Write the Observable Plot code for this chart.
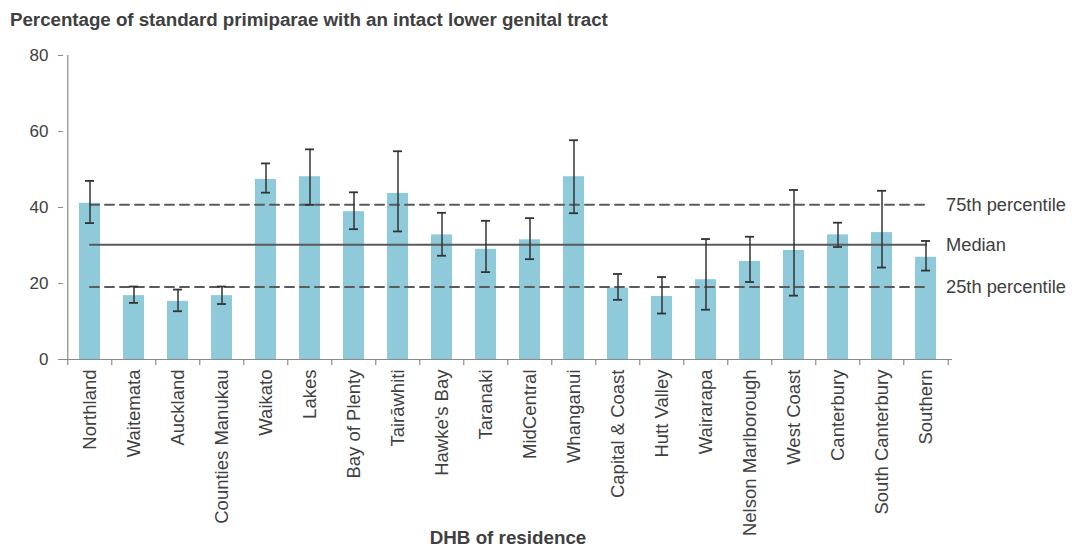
<!DOCTYPE html>
<html>
<head>
<meta charset="utf-8">
<script src="https://cdn.jsdelivr.net/npm/d3@7"></script>
<script src="https://cdn.jsdelivr.net/npm/@observablehq/plot@0.6"></script>
<style>
  html, body { margin: 0; padding: 0; background: #fff; }
  body { width: 1072px; height: 546px; overflow: hidden; font-family: "Liberation Sans", Arial, sans-serif; }
  #title { height: 38px; box-sizing: border-box; padding: 9px 0 0 10px; font-size: 18.8px; font-weight: bold; color: #404040; letter-spacing: -0.05px; white-space: nowrap; }
  #chart svg { display: block; }
</style>
</head>
<body>
<div id="title">Percentage of standard primiparae with an intact lower genital tract</div>
<div id="chart"></div>
<script>
const categories = ["Northland","Waitemata","Auckland","Counties Manukau","Waikato","Lakes","Bay of Plenty","Tairāwhiti","Hawke's Bay","Taranaki","MidCentral","Whanganui","Capital & Coast","Hutt Valley","Wairarapa","Nelson Marlborough","West Coast","Canterbury","South Canterbury","Southern"];
const values = [41.1, 16.8, 15.3, 16.8, 47.4, 48.1, 38.9, 43.7, 32.8, 29.0, 31.5, 48.1, 18.8, 16.6, 21.0, 25.8, 28.7, 32.8, 33.4, 26.9];
const lower  = [35.9, 14.9, 12.7, 14.6, 43.9, 40.7, 34.3, 33.7, 27.3, 23.0, 26.4, 38.5, 15.7, 12.1, 13.1, 20.4, 16.8, 29.6, 24.2, 23.4];
const upper  = [47.0, 19.2, 18.4, 19.2, 51.6, 55.3, 44.0, 54.8, 38.6, 36.5, 37.2, 57.7, 22.5, 21.7, 31.7, 32.3, 44.6, 36.0, 44.4, 31.2];
const refNames  = ["75th percentile", "Median", "25th percentile"];
const refValues = [40.7, 30.2, 19.1];
const yTicks = [0, 20, 40, 60, 80];
const xLabel = "DHB of residence";

const data = categories.map((c, i) => ({c, v: values[i], lo: lower[i], hi: upper[i]}));
const refs = refNames.map((n, i) => ({n, v: refValues[i]}));

const W = 1072, H = 508, ml = 63, mr = 120, mt = 17, mb = 187;
const step = (W - ml - mr) / categories.length;
const last = categories[categories.length - 1];
const refLine = v => categories.map(c => ({c, v}));

const chart = Plot.plot({
  width: W, height: H,
  marginLeft: ml, marginRight: mr, marginTop: mt, marginBottom: mb,
  style: {fontFamily: "'Liberation Sans', Arial, sans-serif", color: "#404040", background: "#fff"},
  x: {domain: categories, paddingInner: 0.53, paddingOuter: 0.265, label: null},
  y: {domain: [0, 80], label: null},
  marks: [
    Plot.barY(data, {x: "c", y: "v", fill: "#8ecad9"}),
    Plot.line(refLine(refValues[0]), {x: "c", y: "v", stroke: "#5a5a5a", strokeWidth: 2, strokeDasharray: "9,6"}),
    Plot.line(refLine(refValues[2]), {x: "c", y: "v", stroke: "#5a5a5a", strokeWidth: 2, strokeDasharray: "9,6"}),
    Plot.line(refLine(refValues[1]), {x: "c", y: "v", stroke: "#5a5a5a", strokeWidth: 2}),
    Plot.ruleX(data, {x: "c", y1: "lo", y2: "hi", stroke: "#333", strokeWidth: 1.5}),
    Plot.tickY(data, {x: "c", y: "hi", stroke: "#333", strokeWidth: 1.8, insetLeft: 6, insetRight: 6}),
    Plot.tickY(data, {x: "c", y: "lo", stroke: "#333", strokeWidth: 1.8, insetLeft: 6, insetRight: 6}),
    Plot.ruleY([0], {stroke: "#8a8a8a", strokeWidth: 1.2}),
    Plot.ruleX([categories[0]], {y1: 0, y2: 80, dx: -step / 2, stroke: "#8a8a8a", strokeWidth: 1.2}),
    Plot.ruleX(categories, {y1: 0, y2: 0, dx: -step / 2, insetBottom: -6, stroke: "#8a8a8a", strokeWidth: 1.2}),
    Plot.ruleX([last], {y1: 0, y2: 0, dx: step / 2, insetBottom: -6, stroke: "#8a8a8a", strokeWidth: 1.2}),
    Plot.axisY({ticks: yTicks, tickSize: 5, tickPadding: 10, fontSize: 17, stroke: "#8a8a8a", tickFormat: d => d}),
    Plot.axisX({tickSize: 0, tickPadding: 10, tickRotate: -90, fontSize: 18.5}),
    Plot.text(refs, {x: () => last, y: "v", text: "n", textAnchor: "start", dx: 20, fontSize: 18.3, fill: "#404040"}),
    Plot.text([xLabel], {frameAnchor: "bottom", dy: 184, fontSize: 18.8, fontWeight: "bold", fill: "#404040"})
  ]
});
document.getElementById("chart").appendChild(chart);
</script>
</body>
</html>
